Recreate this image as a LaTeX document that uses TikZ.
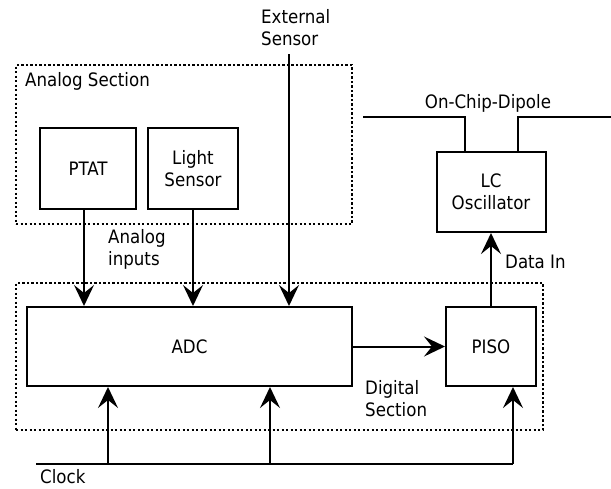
\documentclass[tikz,border=0pt]{standalone}
\usepackage{fontspec}
\setmainfont{DejaVu Sans Condensed}
\usetikzlibrary{arrows.meta,positioning,calc}

\begin{document}
\begin{tikzpicture}[x=1pt,y=-1pt,
every node/.style={font=\fontsize{18.5}{22}\selectfont},
blk/.style={draw,line width=2pt,align=center,inner sep=0pt},
sect/.style={draw,line width=2.2pt,dash pattern=on 2.2pt off 2.3pt,inner sep=0pt},
lbl/.style={inner sep=0pt,align=left},
wire/.style={line width=2pt},
arr/.style={wire,-{Stealth[length=21pt,width=20pt,inset=8pt]}}
]
\useasboundingbox (0,0) rectangle (611,488);

% sections
\node[sect,minimum width=336pt,minimum height=159pt] (anasec) at (184,144.5) {};
\node[sect,minimum width=527pt,minimum height=147pt] (digsec) at (279.5,356.5) {};

% blocks
\node[blk,minimum width=96pt,minimum height=81pt]  (ptat)  at (88,168.5)    {PTAT};
\node[blk,minimum width=90pt,minimum height=81pt]  (light) at (193,168.5)   {Light\\Sensor};
\node[blk,minimum width=325pt,minimum height=79pt] (adc)   at (189.5,346.5) {ADC};
\node[blk,minimum width=90pt,minimum height=79pt]  (piso)  at (491,346.5)   {PISO};
\node[blk,minimum width=109pt,minimum height=80pt] (lc)    at (491,192)     {LC\\Oscillator};

% labels
\node[lbl,anchor=base west] (analbl) at (25,86)  {Analog Section};
\node[lbl,anchor=north west] (extlbl) at (261,9) {External\\Sensor};
\node[lbl,anchor=north west] (inlbl) at (108,229) {Analog\\inputs};
\node[lbl] (diplbl) at (488,103) {On-Chip-Dipole};
\node[lbl,anchor=west] (datalbl) at (505,262) {Data In};
\node[lbl,anchor=north west] (diglbl) at (365,380) {Digital\\Section};
\node[lbl,anchor=north west] (clklbl) at (40,469) {Clock};

% free ends
\coordinate (extin) at (289,54);
\coordinate (dipl) at (363,117);
\coordinate (dipr) at (611,117);
\coordinate (clk)  at (36,464);
\coordinate (clka) at (108,464);
\coordinate (clkb) at (270,464);
\coordinate (clkc) at (513,464);

% analog inputs
\draw[arr] ([xshift=-4pt]ptat.south) -- ([xshift=-4pt]ptat.south |- adc.north);
\draw[arr] (light.south) -- (light.south |- adc.north);
\draw[arr] (extin) -- (extin |- adc.north);

% data path
\draw[arr] (adc) -- (piso);
\draw[arr] (piso) -- (lc);

% dipole
\draw[wire] (dipl) -| ([xshift=-26pt]lc.north);
\draw[wire] (dipr) -| ([xshift=27pt]lc.north);

% clock
\draw[wire] (clk) -- (clkc);
\draw[arr] (clka) -- (clka |- adc.south);
\draw[arr] (clkb) -- (clkb |- adc.south);
\draw[arr] (clkc) -- (clkc |- piso.south);
\end{tikzpicture}
\end{document}
